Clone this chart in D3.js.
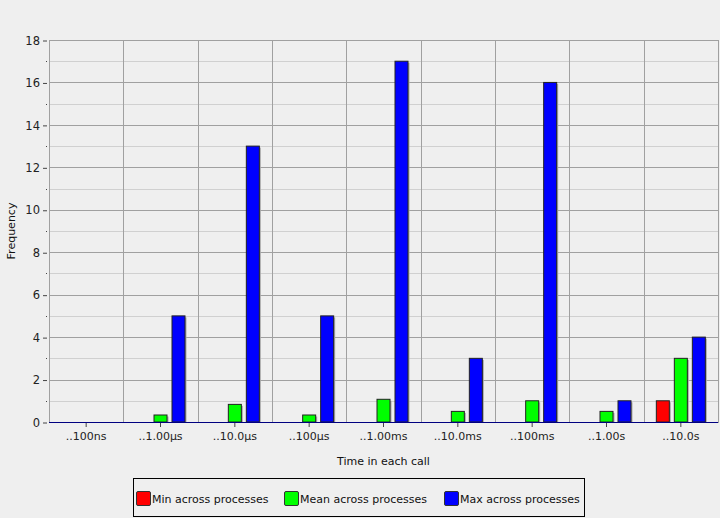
<!DOCTYPE html>
<html>
<head>
<meta charset="utf-8">
<title>Time in each call</title>
<script src="https://d3js.org/d3.v7.min.js"></script>
<style>
  body { margin: 0; background: #efefef; }
  svg { font-family: "DejaVu Sans", sans-serif; }
</style>
</head>
<body>
<script>
// chart data
var categories = ["..100ns", "..1.00\u00b5s", "..10.0\u00b5s", "..100\u00b5s", "..1.00ms", "..10.0ms", "..100ms", "..1.00s", "..10.0s"];
var minValues  = [0, 0, 0, 0, 0, 0, 0, 0, 1];
var meanValues = [0, 0.33, 0.83, 0.33, 1.07, 0.5, 1.0, 0.5, 3];
var maxValues  = [0, 5, 13, 5, 17, 3, 16, 1, 4];
var seriesNames = ["Min across processes", "Mean across processes", "Max across processes"];
var seriesColors = ["#ff0000", "#00ff00", "#0000ff"];
var yTicks = [0, 2, 4, 6, 8, 10, 12, 14, 16, 18];

var width = 720, height = 518;
var plotL = 49, plotR = 718, plotT = 40, plotB = 422;

var svg = d3.select("body").append("svg")
    .attr("width", width).attr("height", height);

svg.append("rect").attr("width", width).attr("height", height).attr("fill", "#efefef");

var x = d3.scaleBand().domain(categories).range([plotL, plotR]).padding(0);
var y = d3.scaleLinear().domain([0, 18]).range([plotB, plotT]);

// minor horizontal grid (odd values)
var minor = d3.range(1, 18, 2);
svg.selectAll(".gminor").data(minor).enter().append("line")
    .attr("x1", plotL).attr("x2", plotR)
    .attr("y1", function(d) { return Math.round(y(d)) + 0.5; })
    .attr("y2", function(d) { return Math.round(y(d)) + 0.5; })
    .attr("stroke", "#d0d0d0");

// major horizontal grid
svg.selectAll(".gmajor").data(yTicks).enter().append("line")
    .attr("x1", plotL).attr("x2", plotR)
    .attr("y1", function(d) { return Math.round(y(d)) + 0.5; })
    .attr("y2", function(d) { return Math.round(y(d)) + 0.5; })
    .attr("stroke", "#a0a0a0");

// vertical grid at category boundaries
svg.selectAll(".gvert").data(categories.slice(1)).enter().append("line")
    .attr("x1", function(d) { return Math.round(x(d)) + 0.5; })
    .attr("x2", function(d) { return Math.round(x(d)) + 0.5; })
    .attr("y1", plotT).attr("y2", plotB)
    .attr("stroke", "#a0a0a0");

// plot frame
svg.append("rect")
    .attr("x", plotL + 0.5).attr("y", plotT + 0.5)
    .attr("width", plotR - plotL).attr("height", plotB - plotT)
    .attr("fill", "none").attr("stroke", "#a0a0a0");

// bars
var series = [minValues, meanValues, maxValues];
var offsets = [-18, 0, 18];
var barW = 13;
series.forEach(function(vals, s) {
  var g = svg.append("g");
  var data = vals.map(function(v, i) { return {c: categories[i], v: v}; })
                 .filter(function(d) { return d.v > 0; });
  // shadow
  g.selectAll(".shadow").data(data).enter().append("rect")
    .attr("x", function(d) { return x(d.c) + x.bandwidth() / 2 + offsets[s] - barW / 2 + 1.5; })
    .attr("y", function(d) { return y(d.v) + 1.5; })
    .attr("width", barW)
    .attr("height", function(d) { return plotB - y(d.v) - 1.5; })
    .attr("fill", "#a8a8a8");
  g.selectAll(".bar").data(data).enter().append("rect")
    .attr("x", function(d) { return x(d.c) + x.bandwidth() / 2 + offsets[s] - barW / 2; })
    .attr("y", function(d) { return y(d.v); })
    .attr("width", barW)
    .attr("height", function(d) { return plotB - y(d.v); })
    .attr("fill", seriesColors[s])
    .attr("stroke", "#222")
    .attr("stroke-width", 1);
});

// baseline
svg.append("line")
    .attr("x1", plotL).attr("x2", plotR)
    .attr("y1", plotB + 0.5).attr("y2", plotB + 0.5)
    .attr("stroke", "#000080").attr("stroke-width", 1.2);

// y axis
var yAxis = svg.append("g").attr("transform", "translate(" + (plotL - 2) + ",0.5)")
    .call(d3.axisLeft(y).tickValues(yTicks).tickSize(4).tickPadding(3));
yAxis.select(".domain").remove();
yAxis.selectAll("text").attr("font-size", 11.5).attr("fill", "#222").attr("font-family", "DejaVu Sans");
yAxis.selectAll("line").attr("stroke", "#444");

svg.selectAll(".ymin").data(minor).enter().append("line")
    .attr("x1", plotL - 3).attr("x2", plotL - 2)
    .attr("y1", function(d) { return Math.round(y(d)) + 0.5; })
    .attr("y2", function(d) { return Math.round(y(d)) + 0.5; })
    .attr("stroke", "#444");

// x axis
var xAxis = svg.append("g").attr("transform", "translate(0," + (plotB + 1) + ")")
    .call(d3.axisBottom(x).tickSize(4).tickPadding(5));
xAxis.select(".domain").remove();
xAxis.selectAll("text").attr("font-size", 11).attr("fill", "#222").attr("font-family", "DejaVu Sans");
xAxis.selectAll("line").attr("stroke", "#444");

// axis titles
svg.append("text")
    .attr("x", (plotL + plotR) / 2).attr("y", 465)
    .attr("text-anchor", "middle").attr("font-size", 11).attr("fill", "#111")
    .text("Time in each call");

svg.append("text")
    .attr("transform", "translate(15," + ((plotT + plotB) / 2) + ") rotate(-90)")
    .attr("text-anchor", "middle").attr("font-size", 11).attr("fill", "#111")
    .text("Frequency");

// legend
var legend = svg.append("g");
legend.append("rect")
    .attr("x", 133.5).attr("y", 478.5).attr("width", 451).attr("height", 38)
    .attr("fill", "#efefef").attr("stroke", "#000");
var legendX = [136, 284, 444];
seriesNames.forEach(function(name, s) {
  legend.append("rect")
    .attr("x", legendX[s] + 0.5).attr("y", 491.5).attr("width", 14).attr("height", 14)
    .attr("rx", 1.5)
    .attr("fill", seriesColors[s]).attr("stroke", "#333");
  legend.append("text")
    .attr("x", legendX[s] + 16).attr("y", 502.5)
    .attr("font-size", 11).attr("fill", "#111")
    .text(name);
});
</script>
</body>
</html>
